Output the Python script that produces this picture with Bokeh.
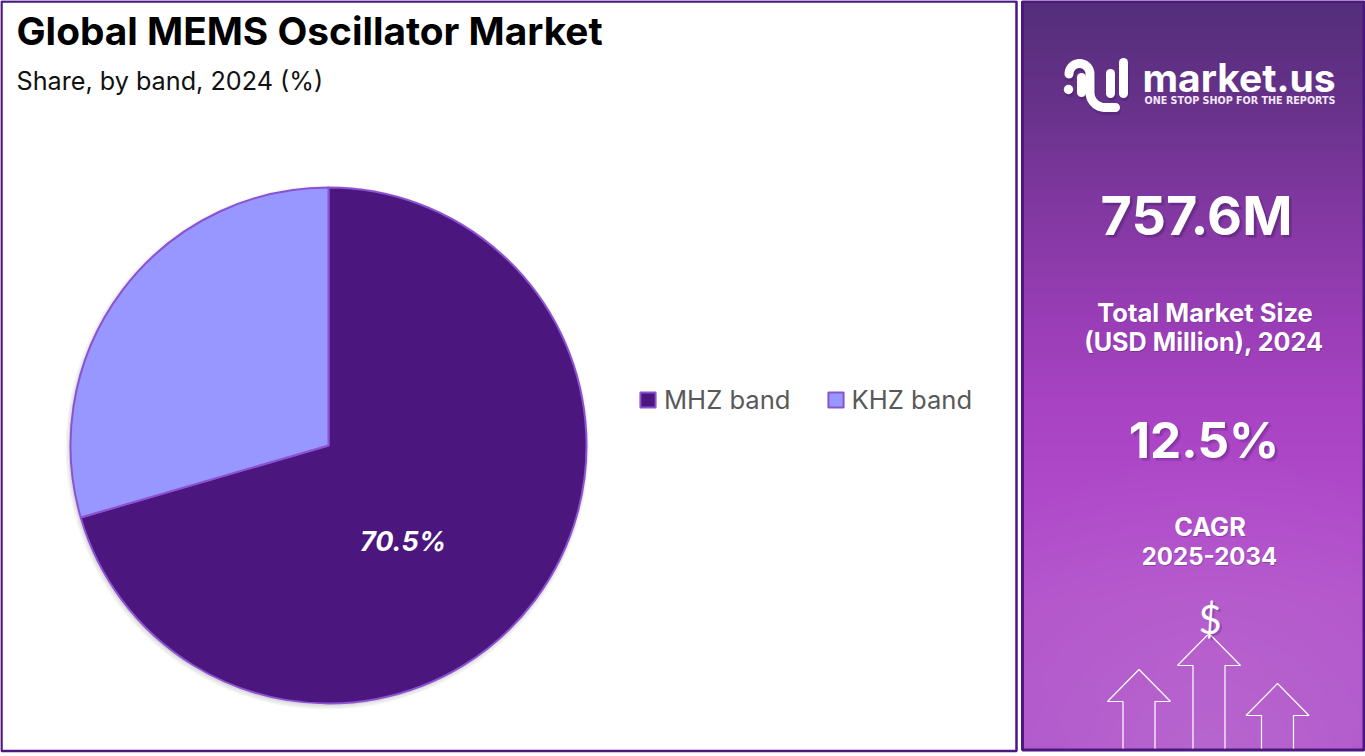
import numpy as np
from bokeh.core.properties import value
from bokeh.embed import file_html
from bokeh.models import ColumnDataSource, Legend, LegendItem, Range1d
from bokeh.plotting import figure
from bokeh.resources import INLINE

W, H = 1365, 756
TITLE = "Global MEMS Oscillator Market"
SUBTITLE = "Share, by band, 2024 (%)"
bands = ["MHZ band", "KHZ band"]
shares = [70.5, 29.5]
band_colors = ["#4b167e", "#9896ff"]
shown_label = "70.5%"
market_size = "757.6M"
size_label = ["Total Market Size", "(USD Million), 2024"]
cagr = "12.5%"
cagr_label = ["CAGR", "2025-2034"]
EDGE = "#8b52d2"
FRAME = "#4b1780"
FONT = "Inter"


def Y(y):
    return H - y


p = figure(width=W, height=H, x_range=Range1d(0, W), y_range=Range1d(0, H),
           output_backend="svg", toolbar_location=None, min_border=0,
           x_axis_location=None, y_axis_location=None, outline_line_color=None,
           background_fill_color="white", border_fill_color="white")
p.grid.visible = False
p.styles = {"position": "absolute", "left": "0", "top": "0"}

# ---- left frame
p.quad(left=[1], right=[1016], top=[Y(1)], bottom=[Y(750.5)], fill_color="white",
       line_color=FRAME, line_width=2.5)

# ---- right panel gradient
stops_y = [0, 100, 180, 300, 400, 500, 600, 750]
stops = np.array([[0x54, 0x2e, 0x7b], [0x67, 0x32, 0x8a], [0x7c, 0x37, 0x9c], [0x96, 0x3d, 0xb3],
                  [0xa8, 0x43, 0xc3], [0xb0, 0x4a, 0xca], [0xb3, 0x54, 0xcc], [0xb0, 0x56, 0xcc]], float)
px, py = 1022, 1
pw, ph = 341, 749
yy, xx = np.mgrid[0:ph, 0:pw]
rgb = np.stack([np.interp(yy, stops_y, stops[:, i]) for i in range(3)], axis=-1)
d = np.hypot(xx + px - 1209, yy + py - 750)
glow = np.clip(1 - d / 300, 0, 1)[..., None] * 0.45
rgb = rgb * (1 - glow) + np.array([0xc0, 0x78, 0xd2]) * glow
img = np.zeros((ph, pw), dtype=np.uint32)
view = img.view(dtype=np.uint8).reshape((ph, pw, 4))
view[..., :3] = rgb[::-1].astype(np.uint8)
view[..., 3] = 255
p.image_rgba(image=[img], x=[px], y=[Y(py + ph)], dw=[pw], dh=[ph])
p.quad(left=[1022], right=[1363.5], top=[Y(1)], bottom=[Y(749.5)], fill_color=None,
       line_color=FRAME, line_width=3)

# ---- titles
p.text([16], [Y(30)], text=[TITLE], text_font=value(FONT), text_font_style="bold",
       text_font_size="38.8px", text_color="black", text_baseline="middle")
p.text([16], [Y(80)], text=[SUBTITLE], text_font=value(FONT), text_font_size="25.2px",
       text_color="#111111", text_baseline="middle")

# ---- pie
CX, CY, R = 328, Y(445), 258
for grow, dy, a in [(4, 2, 0.05), (2.5, 2, 0.07), (1, 1.5, 0.10)]:
    p.circle([CX - 1], [CY - dy], radius=R + grow, fill_color="#555555", fill_alpha=a, line_color=None)
frac = np.cumsum([0] + shares) / np.sum(shares)
starts = np.pi / 2 - 2 * np.pi * frac[:-1]
ends = np.pi / 2 - 2 * np.pi * frac[1:]
src = ColumnDataSource(dict(band=bands, start=starts, end=ends, color=band_colors,
                            x=[CX, CX], y=[CY, CY]))
wedges = p.wedge(x="x", y="y", radius=R, start_angle="start", end_angle="end", direction="clock",
                 fill_color="color", line_color=EDGE, line_width=2, source=src)
p.text([402.5], [Y(541)], text=[shown_label], text_font=value(FONT), text_font_style="bold italic",
       text_font_size="27px", text_color="white", text_align="center", text_baseline="middle")

legend = Legend(items=[LegendItem(label=bands[i], renderers=[wedges], index=i) for i in range(2)],
                orientation="horizontal", location=(638, Y(415)), padding=0, margin=0, spacing=35,
                glyph_width=19, glyph_height=19, label_standoff=7, border_line_color=None,
                background_fill_alpha=0, label_text_font=FONT, label_text_font_size="25.6px",
                label_text_color="#595959", label_height=19)
p.add_layout(legend, "center")


# ---- right panel text
def shadow_text(x, y, s, size, dx=3, dy=3, alpha=0.16, **kw):
    for k, a in ((1.0, alpha), (0.6, alpha)):
        p.text([x + dx * k], [Y(y + dy * k)], text=[s], text_font=value(FONT), text_font_size=size,
               text_font_style="bold", text_color="#2a0d4a", text_alpha=a, text_align="center",
               text_baseline="middle", **kw)
    p.text([x], [Y(y)], text=[s], text_font=value(FONT), text_font_size=size, text_font_style="bold",
           text_color="white", text_align="center", text_baseline="middle", **kw)


shadow_text(1196, 215, market_size, "54px")
shadow_text(1203.5, 439, cagr, "49.5px")
shadow_text(1204.5, 311.5, size_label[0], "25.6px", dx=1, dy=1)
shadow_text(1203.5, 341.5, size_label[1], "25.2px", dx=1, dy=1)
shadow_text(1209.5, 526, cagr_label[0], "25.4px", dx=1, dy=1)
shadow_text(1209, 555.5, cagr_label[1], "24px", dx=1, dy=1)

# ---- logo
t = np.linspace(np.pi, 0, 24)
ax, ay = 1079 + 10.5 * np.cos(t), 73.5 - 10.5 * np.sin(t)
t2 = np.linspace(np.pi, np.pi * 1.5, 16)
bx, by = 1104.5 + 15 * np.cos(t2), 92 - 15 * np.sin(t2)
path_x = np.concatenate([ax, bx, [1115]])
path_y = np.concatenate([ay, by, [107]])
for off, col, a, w in [(3, "#2a0d4a", 0.22, 9), (0, "white", 1, 9)]:
    p.line(path_x + off * 0.4, Y(path_y + off), line_color=col, line_alpha=a, line_width=w, line_cap="round", line_join="round")
    p.multi_line([[1081 + off * .4, 1081 + off * .4], [1110 + off * .4, 1110 + off * .4], [1123 + off * .4, 1123 + off * .4]],
                 [[Y(77 + off), Y(92 + off)], [Y(73 + off), Y(93 + off)], [Y(62 + off), Y(93 + off)]],
                 line_color=col, line_alpha=a, line_width=w, line_cap="round")
    p.circle([1068 + off * .4], [Y(89 + off)], radius=4.7, fill_color=col, fill_alpha=a, line_color=None)
p.text([1142], [Y(77)], text=["market.us"], text_font=value("Inter"), text_font_style="bold",
       text_font_size="39px", text_color="white", text_baseline="middle")
p.text([1144], [Y(100)], text=["ONE STOP SHOP FOR THE REPORTS"], text_font=value("DejaVu Sans"), text_font_style="bold",
       text_font_size="9.6px", text_color="#f3e6f8", text_baseline="middle")

# ---- arrows and dollar sign
arrow_tip_x = [1138.5, 1208.5, 1277]
arrow_tip_y = [669, 633, 683]
for ax0, ay0 in zip(arrow_tip_x, arrow_tip_y):
    xs = [ax0 - 16, ax0 - 16, ax0 - 31.5, ax0, ax0 + 31.5, ax0 + 16, ax0 + 16]
    ys = [748, ay0 + 32, ay0 + 32, ay0, ay0 + 32, ay0 + 32, 748]
    p.line(xs, [Y(v) for v in ys], line_color="white", line_width=1.2)
p.text([1212], [Y(620)], text=["$"], text_font=value("Lato"), text_font_size="40px", text_color="#3a1560",
       text_alpha=0.25, text_align="center", text_baseline="middle")
p.text([1209.5], [Y(618)], text=["$"], text_font=value("Lato"), text_font_size="40px", text_color="white",
       text_align="center", text_baseline="middle")

open("out.html", "w").write(file_html(p, INLINE))
